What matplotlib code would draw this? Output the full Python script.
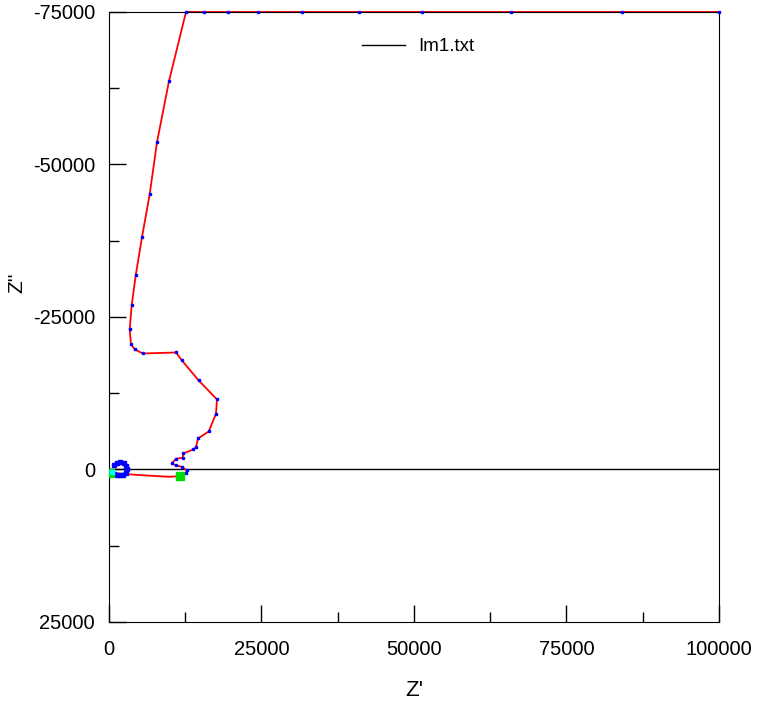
import numpy as np
import matplotlib
matplotlib.use("Agg")
import matplotlib.pyplot as plt

plt.rcParams['font.family'] = ['Liberation Sans', 'DejaVu Sans']
plt.rcParams['axes.unicode_minus'] = False

# 測定データ (Z', Z'')
z_re = [12623, 12737, 11918, 10983, 10279, 10983, 12082, 12180, 13820, 14262,
        14590, 16344, 17541, 17705, 14705, 11918, 10983, 5525, 4262, 3607,
        3393, 3721, 4377, 5410, 6672, 7869, 9836, 12623, 15574, 19508,
        24426, 31639, 40984, 51311, 65902, 84098, 100000]
z_im = [541, 115, -443, -656, -984, -1754, -1918, -2623, -3279, -3656,
        -5082, -6229, -9131, -11475, -14590, -17918, -19180, -19016, -19672, -20492,
        -22951, -26934, -31803, -38082, -45131, -53656, -63656, -75000, -75000, -75000,
        -75000, -75000, -75000, -75000, -75000, -75000, -75000]

# 高周波側の線
lead_re = [164, 2902, 6180, 9885, 11639, 12623]
lead_im = [541, 770, 984, 1197, 1098, 541]

# 原点付近のループ
loop_re = [820, 1262, 1803, 2410, 2738, 2902, 2738, 2344, 1803, 1262, 869]
loop_im = [-656, -1098, -1197, -1033, -541, 0, 541, 869, 984, 984, 820]

# マーカー
mark_re = [164, 11639]
mark_im = [541, 1098]

fig = plt.figure(figsize=(7.58, 7.04), dpi=100, facecolor="white")
ax = fig.add_axes([0.1438, 0.1165, 0.8047, 0.8665])

ax.axhline(0, color="black", lw=1.0, zorder=1)
ax.plot(lead_re, lead_im, color="red", lw=1.3, zorder=2)
ax.plot(loop_re, loop_im, color="blue", lw=2.3, marker="s", ms=2.5, zorder=3)
ax.plot(z_re, z_im, color="red", lw=1.3, zorder=2, clip_on=False)
ax.plot(z_re, z_im, ls="none", marker="s", ms=1.7, color="blue", zorder=3, clip_on=False)
ax.plot(mark_re, mark_im, ls="none", marker="s", ms=6, color="#00dd00", zorder=4)
ax.plot([541], [443], ls="none", marker="s", ms=3, color="cyan", zorder=5)

# 凡例用
ax.plot([], [], color="black", lw=1.0, label="Im1.txt")
ax.legend(loc="upper left", bbox_to_anchor=(0.387, 0.985), frameon=False,
          fontsize=13.5, handlelength=2.3, handletextpad=0.7)

ax.set_xlim(0, 100000)
ax.set_ylim(25000, -75000)
ax.set_xticks([0, 25000, 50000, 75000, 100000])
ax.set_yticks([-75000, -50000, -25000, 0, 25000])
ax.set_xticks(np.arange(12500, 100000, 25000), minor=True)
ax.set_yticks(np.arange(-62500, 25000, 25000), minor=True)
ax.tick_params(which="major", direction="in", length=12, width=1, labelsize=14.5)
ax.tick_params(which="minor", direction="in", length=7, width=1)
ax.tick_params(axis="x", which="major", pad=13)
ax.tick_params(axis="y", which="major", pad=10)

ax.set_xlabel("Z'", fontsize=16)
ax.set_ylabel("Z''", fontsize=15)
ax.xaxis.set_label_coords(0.5, -0.095)
ax.yaxis.set_label_coords(-0.135, 0.556)

fig.savefig("out.png", dpi=100)
